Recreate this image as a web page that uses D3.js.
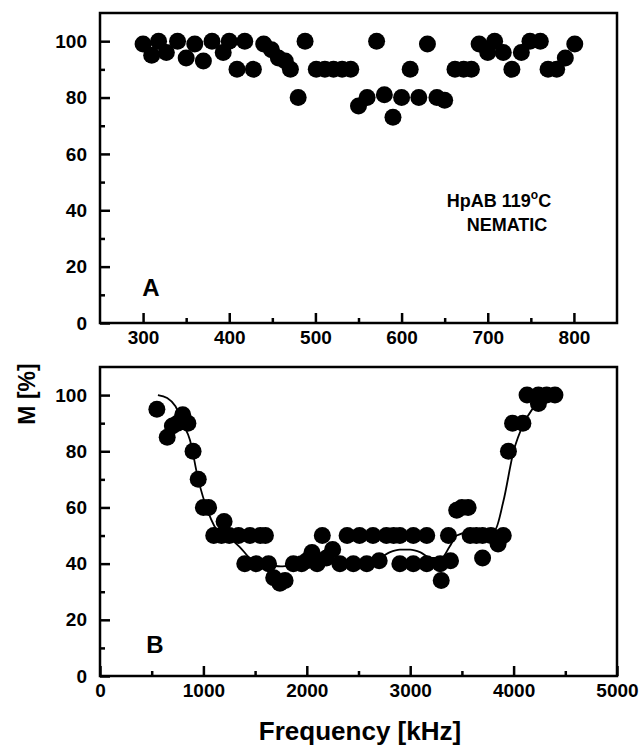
<!DOCTYPE html>
<html>
<head>
<meta charset="utf-8">
<script src="https://d3js.org/d3.v7.min.js"></script>
<style>
  body { margin: 0; background: #fff; }
  svg { display: block; }
  text { font-family: "Liberation Sans", Arial, sans-serif; font-weight: bold; fill: #000; }
  .frame { fill: none; stroke: #000; stroke-width: 2.5; }
  .axis path { display: none; }
  .axis line { stroke: #000; stroke-width: 2.5; }
</style>
</head>
<body>
<svg width="641" height="749"></svg>
<script>
// panel A - nematic phase, low frequency range
var freqA = [300,310,318,327,340,350,360,370,380,393,400,409,418,428,440,449,457,465,471,480,
  488,501,511,521,531,541,550,560,571,580,590,600,610,620,630,641,650,662,672,681,
  690,700,708,718,728,739,749,761,770,780,790,801];
var mA = [99,95,100,96,100,94,99,93,100,96,100,90,100,90,99,97,94,93,90,80,
  100,90,90,90,90,90,77,80,100,81,73,80,90,80,99,80,79,90,90,90,
  99,96,100,96,90,96,100,100,90,90,94,99];

// panel B - wide frequency range
var freqB = [550,650,700,750,800,850,900,950,1000,1050,1100,1175,1200,1250,1340,1400,1450,1510,1550,1600,
  1630,1680,1740,1790,1870,1950,2000,2050,2100,2150,2190,2250,2320,2390,2450,2510,2580,2640,2700,2770,
  2840,2900,2900,3030,3030,3160,3160,3290,3300,3370,3390,3450,3500,3560,3580,3640,3700,3700,3780,3850,
  3900,3950,3990,4090,4130,4240,4240,4320,4400];
var mB = [95,85,89,90,93,90,80,70,60,60,50,50,55,50,50,40,50,40,50,50,
  40,35,33,34,40,40,41,44,40,50,42,45,40,50,40,50,40,50,41,50,
  50,50,40,50,40,50,40,40,34,50,41,59,60,60,50,50,50,42,50,47,
  50,80,90,90,100,100,97,100,100];

// smooth guide line drawn through panel B
var fitFreq = [560,650,730,800,870,950,1050,1150,1250,1350,1450,1600,1750,1900,2100,2300,2500,2700,2800,2900,
  3000,3100,3200,3300,3380,3450,3550,3700,3820,3900,4000,4100,4200,4280];
var fitM = [100,99,96,90,84,70,58,51,49,46,42,40,39,40,41,41,41,42,44,45,
  45,44,42,42,46,50,51,51,52,62,80,90,96,100];

var ticksM = [0,20,40,60,80,100];
var minorM = [10,30,50,70,90];
var ticksA = [300,400,500,600,700,800];
var minorA = [350,450,550,650,750];
var ticksB = [0,1000,2000,3000,4000,5000];
var minorB = [500,1500,2500,3500,4500];

var svg = d3.select("svg");
svg.append("rect").attr("width", 641).attr("height", 749).attr("fill", "#fff");

var left = 100, right = 617;

function panel(top, bottom, xDomain, xTicks, xMinor, fx, fy, letter, lx, ly) {
  var x = d3.scaleLinear().domain(xDomain).range([left, right]);
  var y = d3.scaleLinear().domain([0, 110]).range([bottom, top]);
  var g = svg.append("g");

  // ticks point inward
  g.append("g").attr("class", "axis").attr("transform", "translate(" + left + ",0)")
    .call(d3.axisLeft(y).tickValues(ticksM).tickSize(-10).tickPadding(13))
    .selectAll("text").style("font-size", "19px");
  g.append("g").attr("class", "axis").attr("transform", "translate(" + left + ",0)")
    .call(d3.axisLeft(y).tickValues(minorM).tickSize(-5).tickFormat(""));
  g.append("g").attr("class", "axis").attr("transform", "translate(0," + bottom + ")")
    .call(d3.axisBottom(x).tickValues(xTicks).tickSize(-10).tickPadding(8).tickFormat(d3.format("d")))
    .selectAll("text").style("font-size", "19px");
  g.append("g").attr("class", "axis").attr("transform", "translate(0," + bottom + ")")
    .call(d3.axisBottom(x).tickValues(xMinor).tickSize(-5).tickFormat(""));

  g.append("rect").attr("class", "frame")
    .attr("x", left).attr("y", top)
    .attr("width", right - left).attr("height", bottom - top);

  g.append("g").selectAll("circle")
    .data(fx)
    .enter()
    .append("circle")
    .attr("cx", function(d) { return x(d); })
    .attr("cy", function(d, i) { return y(fy[i]); })
    .attr("r", 8.5)
    .attr("fill", "#000");

  g.append("text").attr("x", lx).attr("y", ly)
    .attr("text-anchor", "middle").style("font-size", "24px").text(letter);

  return { x: x, y: y, g: g };
}

var pA = panel(13, 323, [250, 850], ticksA, minorA, freqA, mA, "A", 151, 296);
var pB = panel(367, 676, [0, 5000], ticksB, minorB, freqB, mB, "B", 155, 653);

var line = d3.line()
  .x(function(d) { return pB.x(d); })
  .y(function(d, i) { return pB.y(fitM[i]); })
  .curve(d3.curveMonotoneX);
pB.g.append("path")
  .attr("d", line(fitFreq))
  .attr("fill", "none")
  .attr("stroke", "#000")
  .attr("stroke-width", 1.8);

// labels
var note = svg.append("text").attr("x", 499).attr("y", 207)
  .attr("text-anchor", "middle").style("font-size", "18px");
note.append("tspan").text("HpAB 119");
note.append("tspan").attr("dy", -8).style("font-size", "12px").text("o");
note.append("tspan").attr("dy", 8).text("C");
svg.append("text").attr("x", 507).attr("y", 231)
  .attr("text-anchor", "middle").style("font-size", "18px").text("NEMATIC");

svg.append("text")
  .attr("transform", "translate(35,394) rotate(-90)")
  .attr("text-anchor", "middle").style("font-size", "23px").text("M [%]");
svg.append("text").attr("x", 360).attr("y", 740)
  .attr("text-anchor", "middle").style("font-size", "26px").text("Frequency [kHz]");
</script>
</body>
</html>
